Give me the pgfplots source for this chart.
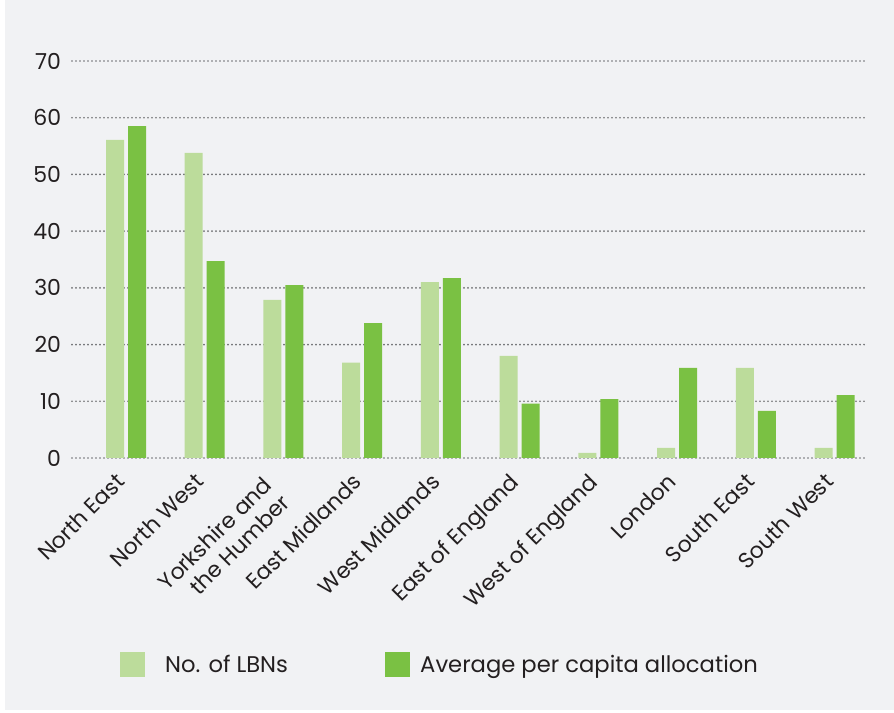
\documentclass[border=0pt]{standalone}
\usepackage{pgfplots}
\pgfplotsset{compat=1.18}
\usepackage{fontspec}
\setmainfont{Poppins}
\definecolor{bgc}{HTML}{F1F2F4}
\definecolor{lightg}{HTML}{BCDC9B}
\definecolor{darkg}{HTML}{7AC143}
\definecolor{gridc}{HTML}{6D6E71}
\definecolor{txt}{HTML}{231F20}
\pgfplotstableread{
x lbn avg
0 56.1 58.5
1 53.8 34.7
2 27.9 30.5
3 16.8 23.8
4 31.0 31.7
5 18.0 9.6
6 0.9 10.4
7 1.8 15.9
8 15.9 8.3
9 1.8 11.1
}\datatable
\begin{document}
\begin{tikzpicture}[x=1pt,y=1pt]
\path[use as bounding box] (-54pt,-191.25pt) rectangle (616.5pt,343.5pt);
\fill[bgc] (-50.25pt,-189pt) rectangle (616.5pt,343.5pt);
\begin{axis}[
  at={(0pt,0pt)}, anchor=south west,
  scale only axis,
  width=594.75pt, height=297.75pt,
  xmin=-0.686, xmax=9.387,
  ymin=0, ymax=70,
  ytick={0,10,...,70},
  xtick={0,1,3,4,5,6,7,8,9},
  xticklabels={North East,North West,East Midlands,West Midlands,East of England,West of England,London,South East,South West},
  extra x ticks={2},
  extra x tick labels={{Yorkshire and\\the Humber}},
  extra x tick style={xticklabel style={xshift=-7.25pt, yshift=4.07pt}},
  ybar=3pt, bar width=13.5pt,
  axis line style={draw=none},
  major tick length=0pt,
  ymajorgrids,
  grid style={gridc, line width=1.4pt, line cap=round, dash pattern=on 0pt off 3pt},
  /pgf/number format/assume math mode=true,
  tick label style={font=\fontsize{16.5}{19}\selectfont, text=txt},
  yticklabel style={anchor=east, inner sep=0pt, xshift=-8pt},
  xticklabel style={xshift=-8.5pt, yshift=-10pt, rotate=45, anchor=north east, align=right, inner sep=0pt},
  legend style={at={(0.0605,-0.520)}, anchor=west, draw=none, fill=none, inner sep=0pt,
     legend columns=2, column sep=15pt, font=\fontsize{17}{19}\selectfont, text=txt,
     nodes={inner sep=0pt}},
  legend image code/.code={\fill[#1] (0pt,-9.375pt) rectangle (18.75pt,9.375pt);},
]
\addplot[fill=lightg, draw=none] table[x=x, y=lbn] {\datatable};
\addlegendentry{\makebox[150pt][l]{No. of LBNs}}
\addplot[fill=darkg, draw=none] table[x=x, y=avg] {\datatable};
\addlegendentry{\hspace*{-7.5pt}Average per capita allocation}
\end{axis}
\end{tikzpicture}
\end{document}
